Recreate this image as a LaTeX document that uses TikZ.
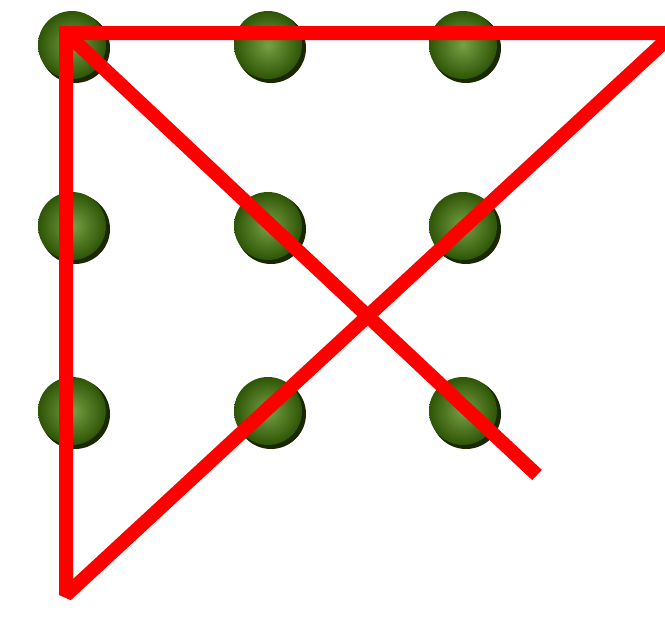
\documentclass[tikz,border=0pt]{standalone}
\begin{document}
\begin{tikzpicture}[x=1pt,y=-1pt,
  dotshadow/.style={circle,fill={rgb,255:red,25;green,40;blue,0},minimum size=70pt,inner sep=0pt},
  dotball/.style={circle,inner color={rgb,255:red,120;green,160;blue,70},outer color={rgb,255:red,45;green,85;blue,5},minimum size=68pt,inner sep=0pt},
  redline/.style={draw=red,line width=14pt,line join=miter,miter limit=2}]
\useasboundingbox[fill=white] (0,0) rectangle (665,629);
\foreach \i/\x in {0/72,1/268,2/463}{
  \foreach \j/\y in {0/45,1/226,2/411}{
    \node[dotshadow] (s\i\j) at (\x+3,\y+3) {};
    \node[dotball] (d\i\j) at (\x,\y) {};
  }
}
\coordinate (e) at (537,475);
\coordinate (a) at (66,33);
\coordinate (b) at (674,33);
\coordinate (c) at (66,595);
\draw[redline] (a) -- (b) -- (c) -- cycle;
\draw[redline] (a) -- (e);
\end{tikzpicture}
\end{document}
